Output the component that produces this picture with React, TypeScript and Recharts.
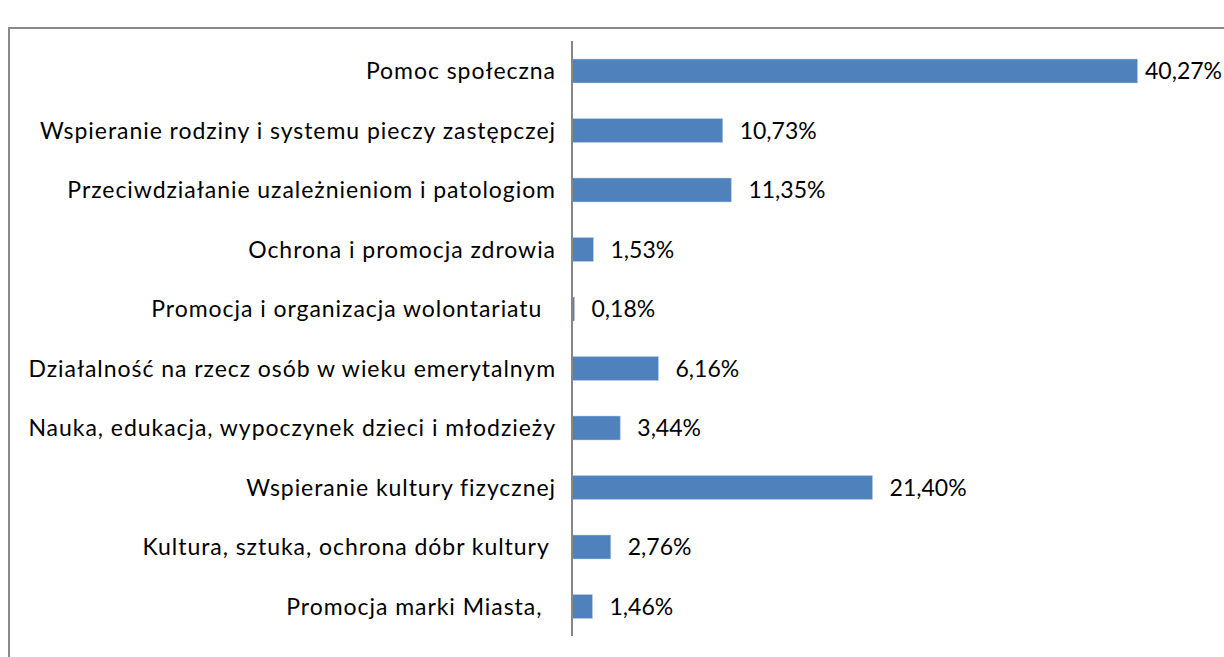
import React from 'react';
import { BarChart, Bar, XAxis, YAxis, LabelList } from 'recharts';

const categories = [
  'Pomoc społeczna',
  'Wspieranie rodziny i systemu pieczy zastępczej',
  'Przeciwdziałanie uzależnieniom i patologiom',
  'Ochrona i promocja zdrowia',
  'Promocja i organizacja wolontariatu  ',
  'Działalność na rzecz osób w wieku emerytalnym',
  'Nauka, edukacja, wypoczynek dzieci i młodzieży',
  'Wspieranie kultury fizycznej',
  'Kultura, sztuka, ochrona dóbr kultury ',
  'Promocja marki Miasta,  ',
];
const shares = [40.27, 10.73, 11.35, 1.53, 0.18, 6.16, 3.44, 21.4, 2.76, 1.46];
const valueLabels = ['40,27%', '10,73%', '11,35%', '1,53%', '0,18%', '6,16%', '3,44%', '21,40%', '2,76%', '1,46%'];

const data = categories.map((name, i) => ({ name, value: shares[i], label: valueLabels[i] }));

const FONT = 'Lato';
const W = 1224;
const H = 657;

const CategoryTick = (props: any) => {
  const { x, y, payload } = props;
  return (
    <text
      x={x}
      y={y}
      dy="0.36em"
      textAnchor="end"
      fill="#000"
      fontFamily={FONT}
      fontSize={23}
      letterSpacing={0.95}
      style={{ whiteSpace: 'pre' }}
    >
      {payload.value}
    </text>
  );
};

const ValueLabel = (props: any) => {
  const { x, y, width, height, value } = props;
  const end = x + width + 17;
  const approx = String(value).length * 12.6;
  const fits = end + approx <= W - 2;
  return (
    <text
      x={fits ? end : W - 2}
      y={y + height / 2}
      dy="0.36em"
      textAnchor={fits ? 'start' : 'end'}
      fill="#000"
      fontFamily={FONT}
      fontSize={23}
    >
      {value}
    </text>
  );
};

export default function App() {
  return (
    <div style={{ position: 'fixed', left: 0, top: 0, width: W, height: H, overflow: 'hidden', background: '#fff' }}>
      <div
        style={{
          position: 'absolute',
          left: 8,
          top: 27,
          width: 1400,
          height: 800,
          border: '2px solid #8a8a8a',
          boxSizing: 'border-box',
        }}
      />
      <div style={{ position: 'absolute', left: 0, top: 0 }}>
        <BarChart
          width={W}
          height={H}
          data={data}
          layout="vertical"
          margin={{ top: 41, right: 20, bottom: 21, left: 0 }}
          barSize={24}
        >
          <XAxis type="number" domain={[0, 45]} hide />
          <YAxis
            type="category"
            dataKey="name"
            width={572}
            tickLine={false}
            tickSize={0}
            tickMargin={16}
            axisLine={{ stroke: '#868686', strokeWidth: 2 }}
            tick={<CategoryTick />}
            interval={0}
          />
          <Bar dataKey="value" fill="#4F81BD" stroke="#c5d3e8" strokeWidth={0.5} isAnimationActive={false}>
            <LabelList dataKey="label" content={<ValueLabel />} />
          </Bar>
        </BarChart>
      </div>
    </div>
  );
}
